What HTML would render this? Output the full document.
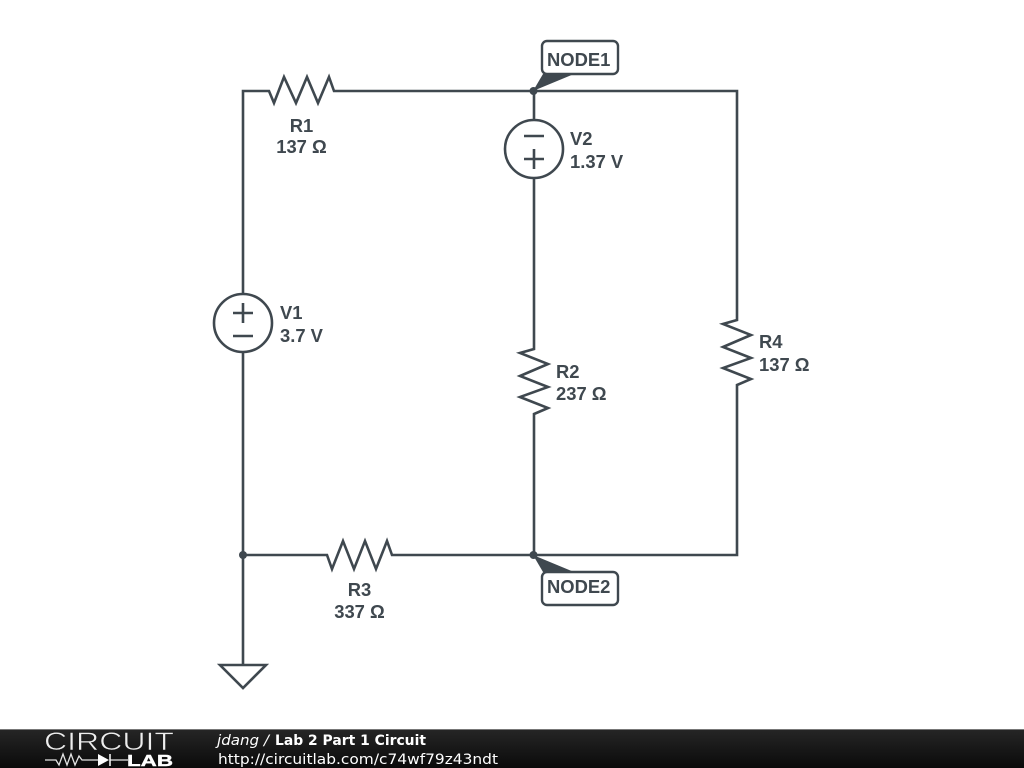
<!DOCTYPE html>
<html>
<head>
<meta charset="utf-8">
<style>
html,body{margin:0;padding:0;background:#fff;width:1024px;height:768px;overflow:hidden}
svg{display:block;position:absolute;left:0;top:0}
.w{fill:none;stroke:#3f484f;stroke-width:2.6;stroke-linejoin:miter}
.t{font-family:"Liberation Sans",sans-serif;font-size:18.4px;font-weight:bold;fill:#3f484f}
.f{font-family:"DejaVu Sans",sans-serif;font-size:14.5px;fill:#fff}
</style>
</head>
<body>
<svg width="1024" height="768" viewBox="0 0 1024 768" xmlns="http://www.w3.org/2000/svg">
<defs>
<linearGradient id="g" x1="0" y1="0" x2="0" y2="1"><stop offset="0" stop-color="#262626"/><stop offset="1" stop-color="#0a0a0a"/></linearGradient>
</defs>
<rect width="1024" height="768" fill="#fff"/>

<!-- wires -->
<path class="w" d="M243 323V91H269L274 103L284 77L296 103L307 77L318 103L329 77L334 91H737V320L723 324L751 335L723 347L751 358L723 368L751 379L737 385V555H392L387 541L376 569L365 541L354 569L343 541L332 569L327 555H243"/>
<path class="w" d="M243 323V665"/>
<path class="w" d="M534 91V349L520 353L548 364L520 376L548 387L520 397L548 408L534 414V555"/>

<!-- V1 -->
<circle cx="243" cy="323" r="29" fill="#fff" stroke="#3f484f" stroke-width="2.6"/>
<path class="w" d="M233 313H253M243 303V323M233 336H253"/>
<!-- V2 -->
<circle cx="534" cy="149" r="29" fill="#fff" stroke="#3f484f" stroke-width="2.6"/>
<path class="w" d="M524 136H544M524 159H544M534 149V169"/>

<!-- ground -->
<path class="w" d="M220 665H266L243 688Z" stroke-linejoin="round"/>

<!-- junctions -->
<circle cx="243" cy="555" r="4" fill="#3f484f"/>
<circle cx="533.500" cy="91" r="4" fill="#3f484f"/>
<circle cx="533.500" cy="555" r="4" fill="#3f484f"/>

<!-- node flags -->
<path d="M533 91L543 74H574Z" fill="#3f484f"/>
<rect x="542" y="41" width="76" height="33" rx="5" fill="#fff" stroke="#3f484f" stroke-width="2.400"/>
<text class="t" x="547" y="66">NODE1</text>
<path d="M533 555L543 572H574Z" fill="#3f484f"/>
<rect x="542" y="572" width="76" height="33" rx="5" fill="#fff" stroke="#3f484f" stroke-width="2.400"/>
<text class="t" x="547" y="593">NODE2</text>

<!-- labels -->
<text class="t" x="301.500" y="132" text-anchor="middle">R1</text>
<text class="t" x="301.500" y="153" text-anchor="middle">137 Ω</text>
<text class="t" x="570" y="145">V2</text>
<text class="t" x="570" y="168">1.37 V</text>
<text class="t" x="280" y="319">V1</text>
<text class="t" x="280" y="342">3.7 V</text>
<text class="t" x="556" y="378">R2</text>
<text class="t" x="556" y="400">237 Ω</text>
<text class="t" x="759" y="348">R4</text>
<text class="t" x="759" y="371">137 Ω</text>
<text class="t" x="359.500" y="596" text-anchor="middle">R3</text>
<text class="t" x="359.500" y="618" text-anchor="middle">337 Ω</text>

<!-- footer -->
<rect x="0" y="729" width="1024" height="39" fill="url(#g)"/>
<rect x="0" y="729" width="1024" height="1" fill="#777"/>
<text x="44" y="750" font-family="'Liberation Sans',sans-serif" font-size="25" fill="#eee" stroke="#1c1c1c" stroke-width=".6" textLength="130" lengthAdjust="spacingAndGlyphs">CIRCUIT</text>
<path d="M45 760H56L59 765L63 754L67 765L71 754L75 765L79 756L82 760H98M110 760H128" fill="none" stroke="#e4e4e4" stroke-width="1.300"/>
<path d="M98 754V766L109 760Z" fill="#fff"/>
<path d="M110 754V766" stroke="#fff" stroke-width="1.500"/>
<text x="127" y="766" font-family="'Liberation Sans',sans-serif" font-size="16" font-weight="bold" fill="#fff" stroke="#fff" stroke-width=".4" textLength="46" lengthAdjust="spacingAndGlyphs">LAB</text>
<text class="f" x="217" y="745" font-style="italic" textLength="52" lengthAdjust="spacingAndGlyphs">jdang /</text>
<text class="f" x="275" y="745" font-weight="bold" textLength="151" lengthAdjust="spacingAndGlyphs">Lab 2 Part 1 Circuit</text>
<text class="f" x="218" y="764" textLength="280" lengthAdjust="spacingAndGlyphs">http://circuitlab.com/c74wf79z43ndt</text>
</svg>
</body>
</html>
